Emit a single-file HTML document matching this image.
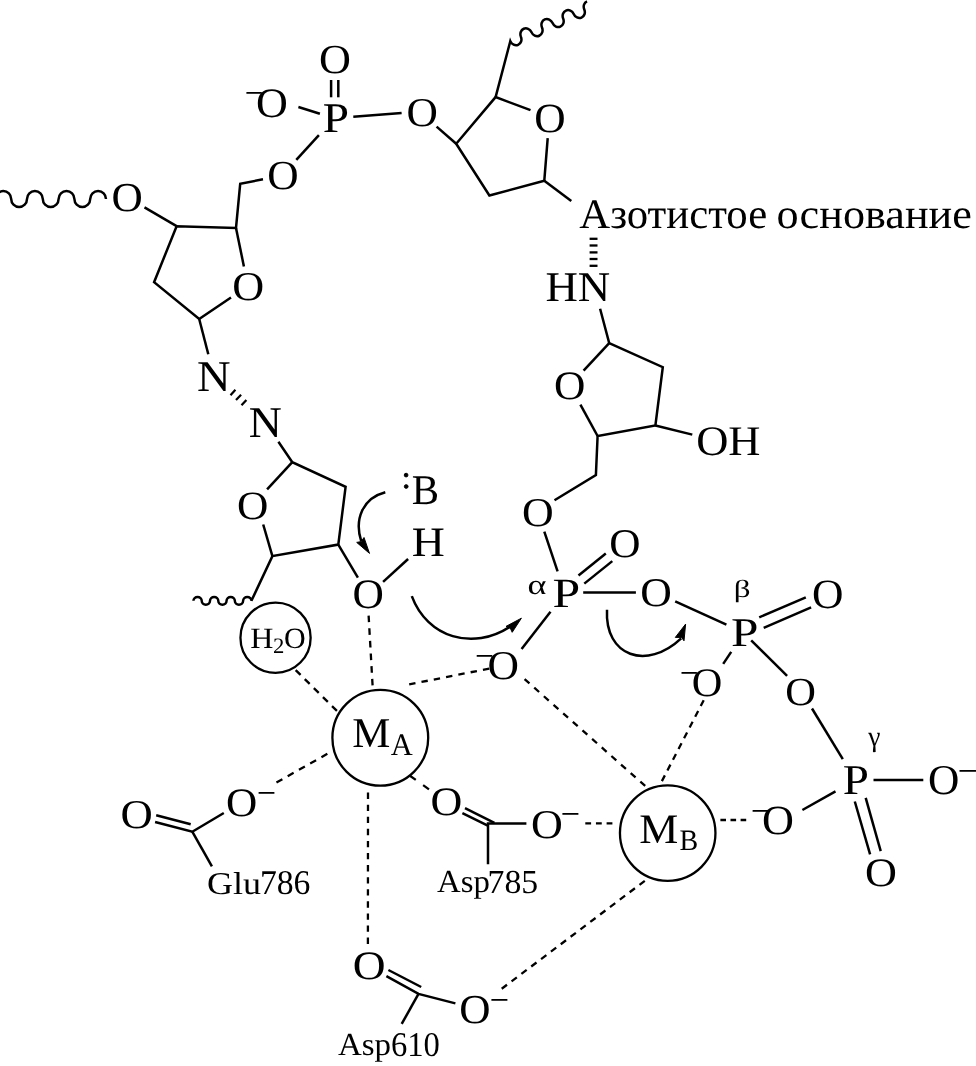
<!DOCTYPE html>
<html><head><meta charset="utf-8"><style>
html,body{margin:0;padding:0;background:#fff;}
svg{display:block;will-change:transform;}
text{font-family:"Liberation Serif",serif;fill:#000;text-rendering:geometricPrecision;}
line,path,circle,polygon{stroke:#000;}
line{stroke-linecap:butt;}
.d{stroke-dasharray:6 6.2;}
polygon{fill:#000;}
</style></head><body>
<svg width="976" height="1066" viewBox="0 0 976 1066">
<text transform="translate(319.09 73.40) scale(1.0723 1)" font-size="41.23">O</text>
<line x1="331.1" y1="80.0" x2="331.1" y2="97.3" stroke-width="2.5"/>
<line x1="338.3" y1="80.0" x2="338.3" y2="97.3" stroke-width="2.5"/>
<text transform="translate(322.64 132.20) scale(1.1157 1)" font-size="42.30">P</text>
<text transform="translate(255.99 116.79) scale(1.0533 1)" font-size="41.82">O</text>
<line x1="246.4" y1="92.9" x2="261.8" y2="92.9" stroke-width="1.75"/>
<line x1="298.4" y1="107.0" x2="319.9" y2="113.7" stroke-width="2.5"/>
<line x1="353.3" y1="116.8" x2="401.6" y2="113.1" stroke-width="2.5"/>
<line x1="318.9" y1="135.2" x2="296.3" y2="159.8" stroke-width="2.5"/>
<text transform="translate(267.32 189.40) scale(1.0534 1)" font-size="41.23">O</text>
<path d="M263.00,179.30 L240.20,183.80 L236.00,227.90 L176.60,226.20 L154.10,282.20 L199.20,319.00 L231.00,297.50" fill="none" stroke-width="2.5" stroke-linejoin="miter"/>
<line x1="176.6" y1="226.2" x2="144.5" y2="207.4" stroke-width="2.5"/>
<line x1="236.0" y1="227.9" x2="243.9" y2="266.4" stroke-width="2.5"/>
<line x1="199.2" y1="319.0" x2="208.3" y2="354.2" stroke-width="2.5"/>
<text transform="translate(111.53 210.60) scale(1.0534 1)" font-size="41.08">O</text>
<text transform="translate(232.19 299.60) scale(1.0801 1)" font-size="40.93">O</text>
<path d="M106.00,199.00 A7.90,7.90 180.0 0 0 90.20,199.00 A7.90,7.90 180.0 0 1 74.40,199.00 A7.90,7.90 180.0 0 0 58.60,199.00 A7.90,7.90 180.0 0 1 42.80,199.00 A7.90,7.90 180.0 0 0 27.00,199.00 A7.90,7.90 180.0 0 1 11.20,199.00 A7.90,7.90 180.0 0 0 -4.60,199.00 A7.90,7.90 180.0 0 1 -20.40,199.00" fill="none" stroke-width="2.5" stroke-linejoin="miter"/>
<text transform="translate(406.52 125.50) scale(1.0610 1)" font-size="40.93">O</text>
<text transform="translate(534.32 131.90) scale(1.0496 1)" font-size="41.38">O</text>
<path d="M530.50,110.20 L495.60,97.10 L456.20,143.80 L489.40,195.50 L544.30,180.70 L547.70,138.20" fill="none" stroke-width="2.5" stroke-linejoin="miter"/>
<line x1="436.6" y1="126.6" x2="456.2" y2="143.8" stroke-width="2.5"/>
<line x1="544.3" y1="180.7" x2="571.3" y2="201.1" stroke-width="2.5"/>
<path d="M495.60,97.10 L510.30,41.20 A5.75,6.40 -23.2 0 0 520.87,36.66 A5.75,6.40 -23.2 0 1 531.43,32.13 A5.75,6.40 -23.2 0 0 542.00,27.59 A5.75,6.40 -23.2 0 1 552.57,23.05 A5.75,6.40 -23.2 0 0 563.14,18.52 A5.75,6.40 -23.2 0 1 573.70,13.98 A5.75,6.40 -23.2 0 0 584.27,9.44 A5.75,6.40 -23.2 0 1 587.03,1.30" fill="none" stroke-width="2.5" stroke-linejoin="miter"/>
<text transform="translate(579.28 228.19) scale(1.0125 1)" font-size="42.24">Азотистое</text>
<text transform="translate(776.42 228.19) scale(1.0578 1)" font-size="41.79">основание</text>
<line x1="589.6" y1="238.8" x2="597.5" y2="238.8" stroke-width="2.3"/>
<line x1="589.6" y1="245.5" x2="597.5" y2="245.5" stroke-width="2.3"/>
<line x1="589.6" y1="252.4" x2="597.5" y2="252.4" stroke-width="2.3"/>
<line x1="589.6" y1="259.0" x2="597.5" y2="259.0" stroke-width="2.3"/>
<line x1="589.6" y1="265.8" x2="597.5" y2="265.8" stroke-width="2.3"/>
<text transform="translate(545.41 301.30) scale(1.0609 1)" font-size="42.30">HN</text>
<path d="M600.10,308.70 L609.20,343.10 L662.80,367.20 L655.40,425.50 L597.60,436.00 L595.90,475.00 L554.50,500.20" fill="none" stroke-width="2.5" stroke-linejoin="miter"/>
<line x1="609.2" y1="343.1" x2="583.6" y2="370.6" stroke-width="2.5"/>
<line x1="655.4" y1="425.5" x2="692.3" y2="434.6" stroke-width="2.5"/>
<line x1="597.6" y1="436.0" x2="580.4" y2="404.6" stroke-width="2.5"/>
<line x1="544.3" y1="531.6" x2="557.6" y2="571.3" stroke-width="2.5"/>
<text transform="translate(554.02 399.31) scale(1.0767 1)" font-size="40.33">O</text>
<text transform="translate(696.17 454.59) scale(1.0574 1)" font-size="42.12">OH</text>
<text transform="translate(522.00 525.80) scale(1.0764 1)" font-size="40.78">O</text>
<text transform="translate(527.52 594.23) scale(1.2930 1)" font-size="28.04">α</text>
<text transform="translate(552.47 606.80) scale(1.1911 1)" font-size="41.69">P</text>
<line x1="578.5" y1="575.4" x2="605.8" y2="553.5" stroke-width="2.5"/>
<line x1="584.3" y1="583.6" x2="612.3" y2="561.1" stroke-width="2.5"/>
<text transform="translate(609.13 557.20) scale(1.0650 1)" font-size="40.63">O</text>
<line x1="583.2" y1="592.4" x2="635.9" y2="592.4" stroke-width="2.5"/>
<text transform="translate(640.21 606.40) scale(1.0765 1)" font-size="40.63">O</text>
<line x1="550.5" y1="611.8" x2="521.6" y2="649.0" stroke-width="2.5"/>
<text transform="translate(487.51 679.10) scale(1.0648 1)" font-size="40.93">O</text>
<line x1="476.7" y1="655.9" x2="492.2" y2="655.9" stroke-width="1.75"/>
<line x1="675.2" y1="601.3" x2="726.4" y2="624.7" stroke-width="2.5"/>
<text transform="translate(733.87 597.35) scale(1.3429 1)" font-size="24.65">β</text>
<text transform="translate(731.08 645.80) scale(1.2078 1)" font-size="40.78">P</text>
<line x1="759.2" y1="617.3" x2="805.8" y2="597.3" stroke-width="2.5"/>
<line x1="763.7" y1="627.9" x2="811.1" y2="607.4" stroke-width="2.5"/>
<text transform="translate(812.01 607.59) scale(1.0458 1)" font-size="41.67">O</text>
<line x1="731.2" y1="651.9" x2="723.2" y2="663.9" stroke-width="2.5"/>
<text transform="translate(691.66 696.00) scale(1.0457 1)" font-size="40.48">O</text>
<line x1="681.5" y1="672.9" x2="696.9" y2="672.9" stroke-width="1.75"/>
<line x1="751.2" y1="640.4" x2="787.1" y2="675.9" stroke-width="2.5"/>
<text transform="translate(785.36 704.81) scale(1.0692 1)" font-size="39.74">O</text>
<line x1="812.0" y1="708.5" x2="842.8" y2="759.2" stroke-width="2.5"/>
<text transform="translate(868.14 745.85) scale(0.9556 1)" font-size="28.87">γ</text>
<text transform="translate(842.65 794.30) scale(1.1069 1)" font-size="42.46">P</text>
<line x1="873.5" y1="780.1" x2="923.3" y2="780.1" stroke-width="2.5"/>
<text transform="translate(928.02 793.89) scale(1.0238 1)" font-size="42.42">O</text>
<line x1="959.5" y1="770.9" x2="976.7" y2="770.9" stroke-width="1.75"/>
<line x1="835.5" y1="791.4" x2="802.4" y2="810.0" stroke-width="2.5"/>
<text transform="translate(761.89 833.80) scale(1.0685 1)" font-size="41.38">O</text>
<line x1="752.6" y1="810.9" x2="768.4" y2="810.9" stroke-width="1.75"/>
<line x1="854.8" y1="801.5" x2="870.1" y2="854.3" stroke-width="2.5"/>
<line x1="865.7" y1="797.9" x2="880.7" y2="851.1" stroke-width="2.5"/>
<text transform="translate(865.09 886.31) scale(1.0961 1)" font-size="40.33">O</text>
<text transform="translate(197.06 390.50) scale(1.0618 1)" font-size="43.83">N</text>
<text transform="translate(248.78 436.60) scale(1.0448 1)" font-size="43.83">N</text>
<line x1="230.5" y1="395.2" x2="235.4" y2="389.8" stroke-width="2.2" stroke-linecap="round"/>
<line x1="236" y1="400.1" x2="241.1" y2="394.8" stroke-width="2.2" stroke-linecap="round"/>
<line x1="241.5" y1="405.2" x2="246.4" y2="399.9" stroke-width="2.2" stroke-linecap="round"/>
<line x1="292.3" y1="462.2" x2="267.1" y2="489.4" stroke-width="2.5"/>
<line x1="272.4" y1="556.1" x2="263.2" y2="524.5" stroke-width="2.5"/>
<path d="M278.40,441.70 L292.30,462.20 L345.60,486.80 L338.30,544.60 L272.40,556.10 L251.40,600.80 A4.14,3.90 180.0 0 0 243.12,600.80 A4.14,3.90 180.0 0 1 234.84,600.80 A4.14,3.90 180.0 0 0 226.56,600.80 A4.14,3.90 180.0 0 1 218.28,600.80 A4.14,3.90 180.0 0 0 210.00,600.80 A4.14,3.90 180.0 0 1 201.72,600.80 A4.14,3.90 180.0 0 0 193.44,600.80" fill="none" stroke-width="2.5" stroke-linejoin="miter"/>
<line x1="338.3" y1="544.6" x2="357.9" y2="577.6" stroke-width="2.5"/>
<line x1="383.1" y1="581.9" x2="408.1" y2="559.0" stroke-width="2.5"/>
<text transform="translate(237.02 518.51) scale(1.0847 1)" font-size="40.04">O</text>
<text transform="translate(352.62 608.19) scale(1.0384 1)" font-size="41.82">O</text>
<text transform="translate(411.68 555.70) scale(1.0940 1)" font-size="41.85">H</text>
<text transform="translate(411.82 503.78) scale(0.9675 1)" font-size="42.27">B</text>
<circle cx="406.1" cy="475.1" r="1.85" stroke="none"/>
<circle cx="406.2" cy="486.5" r="1.85" stroke="none"/>
<path d="M385.3,492.2 C362.6,498.1 354.2,519.2 361.2,541.2" fill="none" stroke-width="2.5"/>
<polygon points="369.5,553.4 356.7,542.4 361.2,541.6 364.0,537.5" stroke="none"/>
<path d="M411.8,596.1 C427.2,637.6 472.9,651.2 510.2,626.6" fill="none" stroke-width="2.5"/>
<polygon points="521.4,618.2 506.0,626.4 509.8,627.1 512.2,632.3" stroke="none"/>
<path d="M607.0,609.7 C604.6,656.6 646.7,670.7 681.2,638.3" fill="none" stroke-width="2.5"/>
<polygon points="685.6,624.1 675.3,637.4 681.5,637.4 684.0,640.8" stroke="none"/>
<circle cx="275.55" cy="637.7" r="35.1" fill="none" stroke-width="2.3"/>
<text transform="translate(250.28 647.80) scale(1.0882 1)" font-size="29.48">H</text>
<text transform="translate(272.90 652.80) scale(1.0294 1)" font-size="22.05">2</text>
<text transform="translate(283.97 647.91) scale(1.0229 1)" font-size="29.32">O</text>
<circle cx="380.3" cy="737.7" r="47.9" fill="none" stroke-width="2.3"/>
<text transform="translate(352.17 747.30) scale(1.0090 1)" font-size="42.46">M</text>
<text transform="translate(390.70 755.10) scale(0.9678 1)" font-size="31.51">A</text>
<circle cx="667.7" cy="833.1" r="47.75" fill="none" stroke-width="2.3"/>
<text transform="translate(639.33 843.40) scale(1.0458 1)" font-size="42.00">M</text>
<text transform="translate(679.59 849.71) scale(0.9443 1)" font-size="29.65">B</text>
<text transform="translate(120.57 827.70) scale(1.0916 1)" font-size="40.93">O</text>
<line x1="156.2" y1="815.2" x2="190.7" y2="824.2" stroke-width="2.5"/>
<path d="M155.10,822.00 L192.30,831.70 L223.80,813.00" fill="none" stroke-width="2.5" stroke-linejoin="miter"/>
<line x1="192.3" y1="831.7" x2="211.9" y2="866.4" stroke-width="2.5"/>
<text transform="translate(225.93 816.01) scale(1.0728 1)" font-size="40.33">O</text>
<line x1="258.6" y1="792.9" x2="274.4" y2="792.9" stroke-width="1.75"/>
<text transform="translate(207.02 893.69) scale(1.1430 1)" font-size="31.55">Glu</text>
<text transform="translate(259.88 893.76) scale(0.9713 1)" font-size="34.68">786</text>
<text transform="translate(430.59 814.71) scale(1.0922 1)" font-size="40.33">O</text>
<line x1="465.0" y1="808.1" x2="494.4" y2="822.9" stroke-width="2.5"/>
<line x1="462.4" y1="813.2" x2="487.8" y2="825.7" stroke-width="2.5"/>
<path d="M526.40,823.40 L488.00,823.40 L488.00,864.20" fill="none" stroke-width="2.5" stroke-linejoin="miter"/>
<text transform="translate(530.89 837.70) scale(1.0763 1)" font-size="40.93">O</text>
<line x1="562.4" y1="813.9" x2="578.4" y2="813.9" stroke-width="1.75"/>
<text transform="translate(437.08 891.97) scale(1.0237 1)" font-size="32.07">Asp</text>
<text transform="translate(487.57 892.97) scale(1.0081 1)" font-size="33.49">785</text>
<text transform="translate(352.74 978.81) scale(1.1270 1)" font-size="40.33">O</text>
<line x1="388.4" y1="970.0" x2="421.2" y2="987.0" stroke-width="2.5"/>
<path d="M386.40,976.10 L418.50,993.90 L455.40,1003.40" fill="none" stroke-width="2.5" stroke-linejoin="miter"/>
<line x1="418.5" y1="993.9" x2="401.7" y2="1023.9" stroke-width="2.5"/>
<text transform="translate(459.33 1022.80) scale(1.0534 1)" font-size="41.08">O</text>
<line x1="491.4" y1="999.9" x2="507.4" y2="999.9" stroke-width="1.75"/>
<text transform="translate(337.98 1054.97) scale(1.0277 1)" font-size="32.07">Asp</text>
<text transform="translate(390.90 1055.96) scale(0.9410 1)" font-size="34.68">610</text>
<path d="M368.62,615.60L369.00,622.19M369.34,628.24L369.71,634.83M370.06,640.88L370.43,647.47M370.77,653.53L371.14,660.12M371.49,666.17L371.86,672.76M372.20,678.81L372.58,685.40" fill="none" stroke-width="2.3"/>
<path d="M295.68,670.08L300.59,674.94M304.77,679.08L309.67,683.93M313.85,688.07L318.75,692.93M322.93,697.07L327.83,701.92M332.01,706.06L336.92,710.92" fill="none" stroke-width="2.3"/>
<path d="M409.19,684.42L415.47,683.18M421.48,681.99L427.76,680.75M433.77,679.56L440.05,678.31M446.06,677.12L452.34,675.88M458.35,674.69L464.63,673.44M470.64,672.25L476.92,671.01M482.93,669.82L489.21,668.58" fill="none" stroke-width="2.3"/>
<path d="M327.35,753.80L321.43,757.14M316.11,760.14L310.18,763.48M304.86,766.48L298.94,769.82M293.62,772.82L287.69,776.16M282.37,779.16L276.45,782.50" fill="none" stroke-width="2.3"/>
<path d="M409.93,775.73L415.78,779.92M423.12,785.18L428.97,789.37" fill="none" stroke-width="2.3"/>
<path d="M368.00,792.60L368.00,798.90M367.99,804.68L367.99,810.98M367.98,816.77L367.98,823.07M367.98,828.85L367.97,835.15M367.97,840.93L367.96,847.23M367.96,853.02L367.96,859.32M367.95,865.10L367.95,871.40M367.94,877.18L367.94,883.48M367.94,889.27L367.93,895.57M367.93,901.35L367.92,907.65M367.92,913.43L367.92,919.73M367.91,925.52L367.91,931.82M367.90,937.60L367.90,943.90" fill="none" stroke-width="2.3"/>
<path d="M524.60,679.17L529.47,683.47M534.24,687.70L539.11,692.01M543.89,696.24L548.76,700.55M553.53,704.78L558.40,709.09M563.18,713.32L568.04,717.63M572.82,721.86L577.69,726.17M582.47,730.40L587.33,734.70M592.11,738.93L596.98,743.24M601.76,747.47L606.62,751.78M611.40,756.01L616.27,760.32M621.04,764.55L625.91,768.86M630.69,773.09L635.56,777.40M640.33,781.63L645.20,785.93" fill="none" stroke-width="2.3"/>
<path d="M703.72,700.26L700.73,706.03M698.17,710.99L695.18,716.76M692.62,721.72L689.63,727.49M687.07,732.45L684.08,738.22M681.52,743.18L678.53,748.95M675.97,753.91L672.98,759.68M670.42,764.64L667.43,770.41M664.87,775.37L661.88,781.14" fill="none" stroke-width="2.3"/>
<path d="M585.30,823.40L591.10,823.40M595.95,823.40L601.75,823.40M606.60,823.40L612.40,823.40" fill="none" stroke-width="2.3"/>
<path d="M720.40,820.00L726.00,820.00M730.50,820.00L736.10,820.00M740.60,820.00L746.20,820.00" fill="none" stroke-width="2.3"/>
<path d="M501.72,988.76L506.99,984.78M511.56,981.33L516.83,977.36M521.40,973.91L526.67,969.94M531.25,966.49L536.52,962.51M541.09,959.06L546.36,955.09M550.93,951.64L556.20,947.66M560.77,944.21L566.04,940.24M570.62,936.79L575.88,932.81M580.46,929.36L585.73,925.39M590.30,921.94L595.57,917.96M600.14,914.51L605.41,910.54M609.98,907.09L615.25,903.11M619.83,899.66L625.10,895.69M629.67,892.24L634.94,888.27M639.51,884.82L644.78,880.84" fill="none" stroke-width="2.3"/>
</svg>
</body></html>
